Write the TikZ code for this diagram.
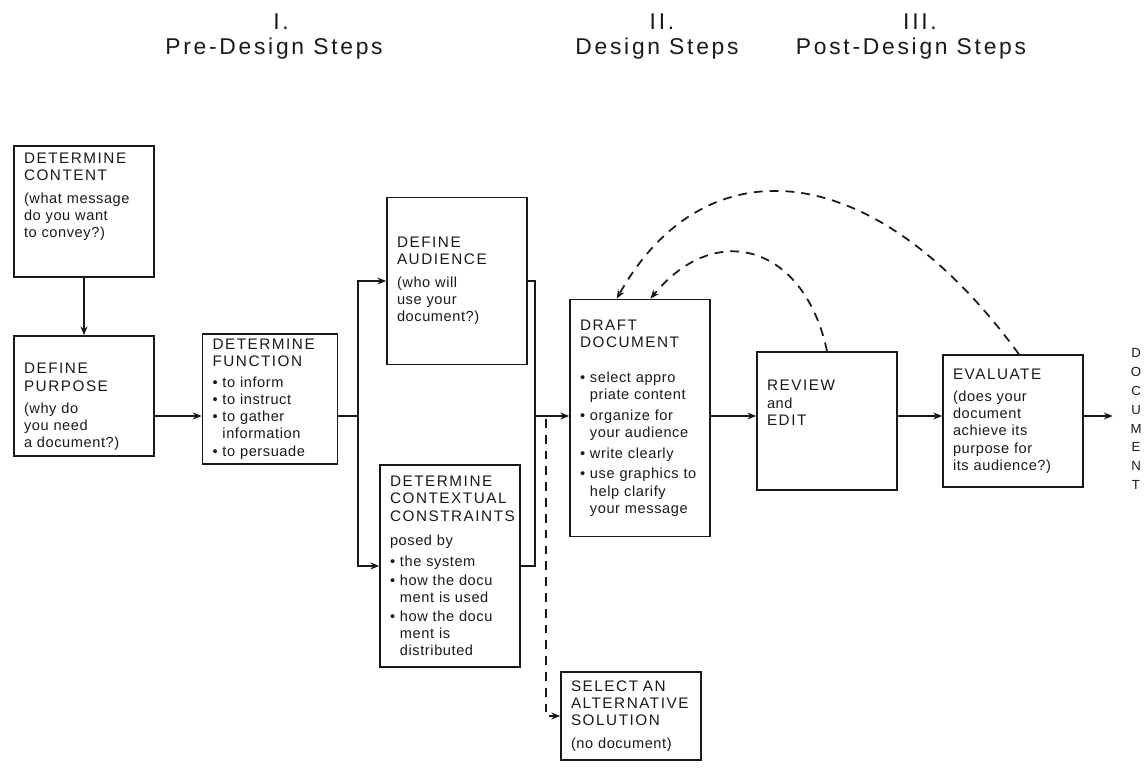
\documentclass[tikz,border=0pt]{standalone}
\usepackage{fontspec}
\setmainfont{Liberation Sans}
\newfontfamily\boxfont[LetterSpace=4]{Liberation Sans}
\newfontfamily\capfont[LetterSpace=10]{Liberation Sans}
\newfontfamily\hdrfont[LetterSpace=12]{Liberation Sans}
\usepackage{tikz}
\usetikzlibrary{arrows.meta, positioning}
\definecolor{myink}{RGB}{25,25,25}
\newcommand{\ttl}[1]{{\capfont\fontsize{8.7}{9.8}\selectfont #1}}
\newcommand{\bul}{\textbullet\ }
\newcommand{\ind}{\hphantom{\textbullet\ }}
\tikzset{
  block/.style={rectangle, draw=myink, text=myink, line width=1pt,
    text width=2.4cm, inner xsep=0.2cm, inner ysep=0.1cm, align=left,
    font=\boxfont\fontsize{8.3}{9.8}\selectfont},
  arrow/.style={-{Stealth[length=5pt,width=4pt]}, line width=1pt, color=myink},
  line/.style={line width=1pt, color=myink},
  dasharrow/.style={arrow, dash pattern=on 5pt off 4pt},
  hdr/.style={font=\hdrfont\fontsize{13}{15}\selectfont, text=myink,
    anchor=base, inner sep=0pt},
  docword/.style={font=\fontsize{7.5}{10.8}\selectfont, text=myink,
    align=center, inner xsep=0.35cm, inner ysep=0pt}
}

\begin{document}
\begin{tikzpicture}[x=0.02cm, y=-0.02cm]
  \useasboundingbox (0,0) rectangle (1146,776);
  % column headings
  \node[hdr] (numpre) at (281,30) {I.};
  \node[hdr] (hdrpre) at (274,55) {Pre-Design Steps};
  \node[hdr] (numdes) at (662,30) {II.};
  \node[hdr] (hdrdes) at (657,55) {Design Steps};
  \node[hdr] (numpost) at (920,30) {III.};
  \node[hdr] (hdrpost) at (911,55) {Post-Design Steps};
  % pre-design
  \node[block, minimum height=2.34cm] (purpose) at (84,396)
    {\strut\\[2pt]\ttl{DEFINE}\\\ttl{PURPOSE}\\[3pt](why do\\you need\\a document?)};
  \node[block, minimum height=2.62cm, above=1.14cm of purpose] (content)
    {\ttl{DETERMINE}\\\ttl{CONTENT}\\[3pt]\mbox{(what message}\\do you want\\to convey?)\\[6pt]\strut};
  \node[block, text width=2.3cm, minimum height=2.24cm] (function) at (270,399)
    {\ttl{DETERMINE}\\\ttl{FUNCTION}\\[2pt]\bul to inform\\\bul to instruct\\\bul to gather\\\ind information\\\bul to persuade};
  \node[block, minimum height=3.34cm] (audience) at (457,281)
    {\ttl{DEFINE}\\\ttl{AUDIENCE}\\[3pt](who will\\use your\\document?)};
  \node[block, minimum height=4.04cm] (constraints) at (450,566)
    {\ttl{DETERMINE}\\\ttl{CONTEXTUAL}\\\ttl{CONSTRAINTS}\\[4pt]posed by\\[2pt]\bul the system\\[1pt]\mbox{\bul how the docu}\\\ind ment is used\\[1pt]\mbox{\bul how the docu}\\\ind ment is\\\ind distributed};
  % design
  \node[block, minimum height=4.74cm] (draft) at (640,418)
    {\ttl{DRAFT}\\\ttl{DOCUMENT}\\[10pt]\bul select appro\\\mbox{\ind priate content}\\[2pt]\bul organize for\\\mbox{\ind your audience}\\[2pt]\bul write clearly\\[2pt]\mbox{\bul use graphics to}\\\ind help clarify\\\ind your message};
  \node[block, minimum height=1.76cm] (select) at (631,716)
    {\ttl{SELECT AN}\\\ttl{ALTERNATIVE}\\\ttl{SOLUTION}\\[3pt](no document)};
  % post-design
  \node[block, minimum height=2.76cm] (review) at (827,421)
    {\ttl{REVIEW}\\and\\\ttl{EDIT}\\[8pt]\strut};
  \node[block, minimum height=2.64cm] (evaluate) at (1013,421)
    {\ttl{EVALUATE}\\[3pt](does your\\document\\achieve its\\purpose for\\\mbox{its audience?)}};
  \node[docword] (doc) at (1136,419) {D\\O\\C\\U\\M\\E\\N\\T};
  % junctions
  \coordinate (flow) at (0,416);
  \coordinate (split) at (358,416);
  \coordinate (merge) at (535,416);
  \coordinate (altstart) at (546,419);
  % connectors
  \draw[arrow] (content) -- (purpose);
  \draw[arrow] (purpose.east |- flow) -- (function.west |- flow);
  \draw[line] (function.east |- flow) -- (split);
  \draw[arrow] (split) |- (audience.west);
  \draw[arrow] (split) |- (constraints.west);
  \draw[line] (audience.east) -| (merge);
  \draw[line] (constraints.east) -| (merge);
  \draw[arrow] (merge) -- (draft.west |- flow);
  \draw[dasharrow] (altstart) |- (select.west);
  \draw[arrow] (draft.east |- flow) -- (review.west |- flow);
  \draw[arrow] (review.east |- flow) -- (evaluate.west |- flow);
  \draw[arrow] (evaluate.east |- flow) -- (doc.west |- flow);
  % feedback loops
  \draw[dasharrow] (review.north) .. controls (805,247) and (717,218) .. (draft.85);
  \draw[dasharrow] (evaluate.85) .. controls (870,150) and (702,146) .. (draft.101);
\end{tikzpicture}
\end{document}
